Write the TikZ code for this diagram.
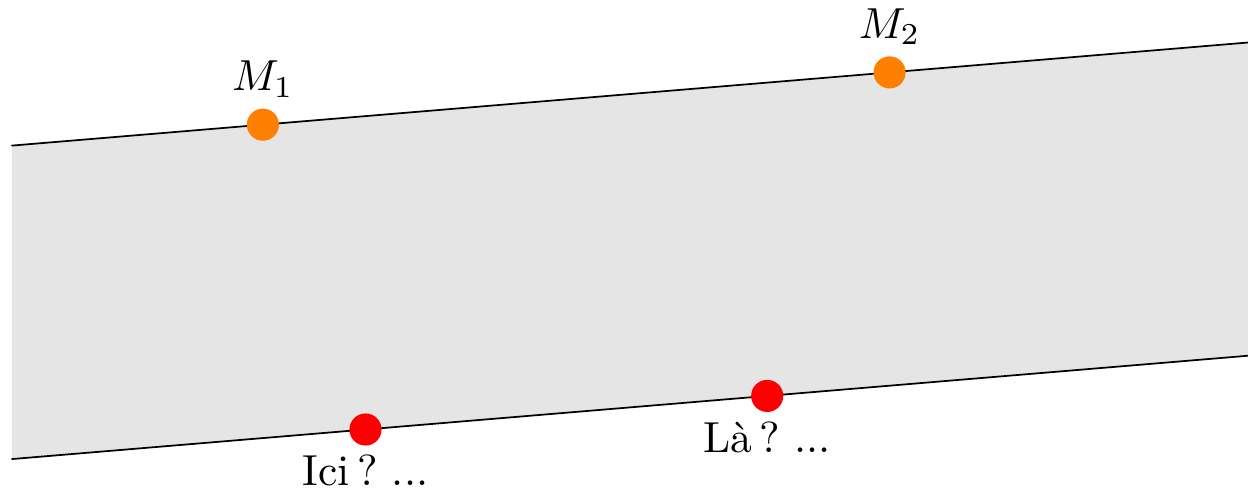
\documentclass[tikz,border=0pt]{standalone}
\begin{document}
\begin{tikzpicture}[line join=round,line cap=round,
		pt/.style={circle,inner sep=0pt,minimum size=0.26cm},
		lab/.style={anchor=base,inner sep=0pt}]
	\useasboundingbox (-0.097,-0.259) rectangle (10,3.714);
	% bande grise
	\path
	(0,0) coordinate (A)
	(10,0.836) coordinate (B)
	(10,3.37) coordinate (C)
	(0,2.536) coordinate (D);
	\fill[gray!20] (A) -- (B) -- (C) -- (D) -- cycle;
	\draw (A) -- (B);
	\draw (D) -- (C);
	% points sur les bords
	\path (D) -- (C) coordinate[pos=0.203] (m1) coordinate[pos=0.71] (m2);
	\path (A) -- (B) coordinate[pos=0.286] (p1) coordinate[pos=0.611] (p2);
	\node[pt,fill=orange] (M1) at (m1) {};
	\node[pt,fill=orange] (M2) at (m2) {};
	\node[pt,fill=red] (P1) at (p1) {};
	\node[pt,fill=red] (P2) at (p2) {};
	\foreach \t/\s in {M1/$M_1$, M2/$M_2$}{
		\node[lab] (L\t) at ([yshift=0.275cm]\t.center) {\s};
	}
	\node[lab] (LP1) at ([yshift=-0.455cm]P1.center) {Ici\,?\ ...};
	\node[lab] (LP2) at ([yshift=-0.46cm]P2.center) {Là\,?\ ...};
\end{tikzpicture}
\end{document}
